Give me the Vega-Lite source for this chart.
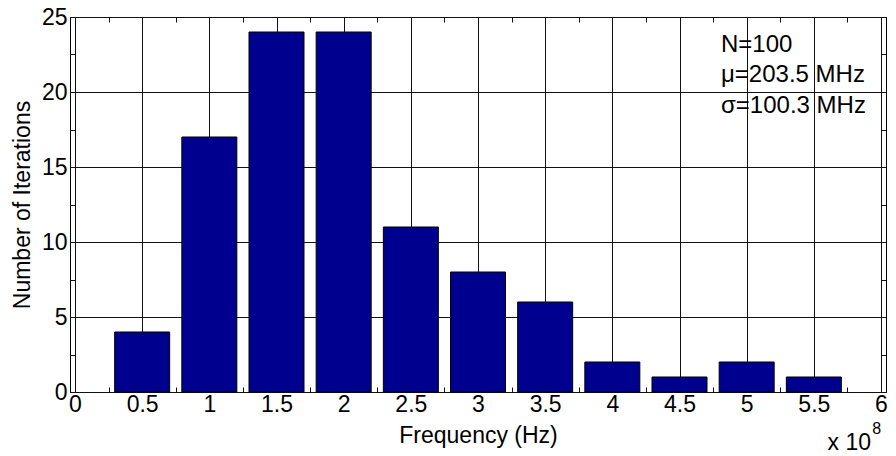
{
  "$schema": "https://vega.github.io/schema/vega-lite/v6.json",
  "autosize": {"type": "none"},
  "width": 816,
  "height": 375,
  "padding": {"left": 70, "top": 17, "right": 10, "bottom": 64},
  "background": "white",
  "config": {
    "font": "Liberation Sans",
    "view": {"stroke": "#000000", "strokeWidth": 1},
    "axis": {
      "domain": false,
      "labelFont": "Liberation Sans",
      "titleFont": "Liberation Sans",
      "labelColor": "#000000",
      "titleColor": "#000000",
      "labelFontSize": 23,
      "titleFontSize": 23,
      "titleFontWeight": "normal",
      "tickColor": "#111111",
      "tickWidth": 1,
      "gridWidth": 1,
      "labelOverlap": false,
      "labelFlush": false,
      "labelBound": false
    }
  },
  "data": {
    "values": [
      {"freq": 0.5, "count": 4},
      {"freq": 1.0, "count": 17},
      {"freq": 1.5, "count": 24},
      {"freq": 2.0, "count": 24},
      {"freq": 2.5, "count": 11},
      {"freq": 3.0, "count": 8},
      {"freq": 3.5, "count": 6},
      {"freq": 4.0, "count": 2},
      {"freq": 4.5, "count": 1},
      {"freq": 5.0, "count": 2},
      {"freq": 5.5, "count": 1}
    ]
  },
  "resolve": {"axis": {"x": "independent", "y": "independent"}},
  "layer": [
    {
      "mark": {"type": "bar", "width": 55, "color": "#00008F", "stroke": "#000000", "strokeWidth": 1},
      "encoding": {
        "x": {
          "field": "freq",
          "type": "quantitative",
          "scale": {"domain": [0, 6], "nice": false, "zero": false},
          "axis": {
            "orient": "bottom",
            "title": "Frequency (Hz)",
            "titleY": 50,
            "titleBaseline": "alphabetic",
            "values": [0, 0.25, 0.5, 0.75, 1, 1.25, 1.5, 1.75, 2, 2.25, 2.5, 2.75, 3, 3.25, 3.5, 3.75, 4, 4.25, 4.5, 4.75, 5, 5.25, 5.5, 5.75, 6],
            "labelExpr": "datum.value % 0.5 == 0 ? format(datum.value, '~g') : ''",
            "grid": true,
            "gridColor": {"condition": {"test": "datum.value % 0.5 == 0", "value": "#111111"}, "value": "transparent"},
            "tickSize": {"condition": {"test": "datum.value % 0.5 == 0", "value": -7}, "value": -5},
            "labelPadding": 8
          }
        },
        "y": {
          "field": "count",
          "type": "quantitative",
          "scale": {"domain": [0, 25], "nice": false},
          "axis": {
            "orient": "left",
            "title": "Number of Iterations",
            "titleX": -41,
            "titleY": 187.5,
            "titleAngle": 270,
            "titleAlign": "center",
            "titleBaseline": "alphabetic",
            "values": [0, 2.5, 5, 7.5, 10, 12.5, 15, 17.5, 20, 22.5, 25],
            "labelExpr": "datum.value % 5 == 0 ? format(datum.value, '~g') : ''",
            "grid": true,
            "gridColor": {"condition": {"test": "datum.value % 5 == 0", "value": "#111111"}, "value": "transparent"},
            "tickSize": {"condition": {"test": "datum.value % 5 == 0", "value": -7}, "value": -5},
            "labelPadding": 10
          }
        }
      }
    },
    {
      "data": {"values": [{"note": "stats"}]},
      "mark": {"type": "text", "align": "left", "baseline": "alphabetic", "fontSize": 24, "lineHeight": 30.5, "color": "#000000"},
      "encoding": {
        "x": {
          "datum": 4.809,
          "axis": {
            "orient": "top",
            "title": null,
            "labels": false,
            "grid": false,
            "values": [0, 0.25, 0.5, 0.75, 1, 1.25, 1.5, 1.75, 2, 2.25, 2.5, 2.75, 3, 3.25, 3.5, 3.75, 4, 4.25, 4.5, 4.75, 5, 5.25, 5.5, 5.75, 6],
            "tickSize": {"condition": {"test": "datum.value % 0.5 == 0", "value": -7}, "value": -5}
          }
        },
        "y": {
          "datum": 22.67,
          "axis": {
            "orient": "right",
            "title": null,
            "labels": false,
            "grid": false,
            "values": [0, 2.5, 5, 7.5, 10, 12.5, 15, 17.5, 20, 22.5, 25],
            "tickSize": {"condition": {"test": "datum.value % 5 == 0", "value": -7}, "value": -5}
          }
        },
        "text": {"value": ["N=100", "μ=203.5 MHz", "σ=100.3 MHz"]}
      }
    },
    {
      "data": {"values": [{"note": "exponent"}]},
      "mark": {"type": "text", "align": "right", "baseline": "alphabetic", "fontSize": 23, "color": "#000000"},
      "encoding": {
        "x": {"datum": 5.926, "axis": null},
        "y": {"datum": -3.87, "axis": null},
        "text": {"value": "x 10"}
      }
    },
    {
      "data": {"values": [{"note": "exponent"}]},
      "mark": {"type": "text", "align": "left", "baseline": "alphabetic", "fontSize": 16, "color": "#000000"},
      "encoding": {
        "x": {"datum": 5.934, "axis": null},
        "y": {"datum": -2.8, "axis": null},
        "text": {"value": "8"}
      }
    }
  ]
}
